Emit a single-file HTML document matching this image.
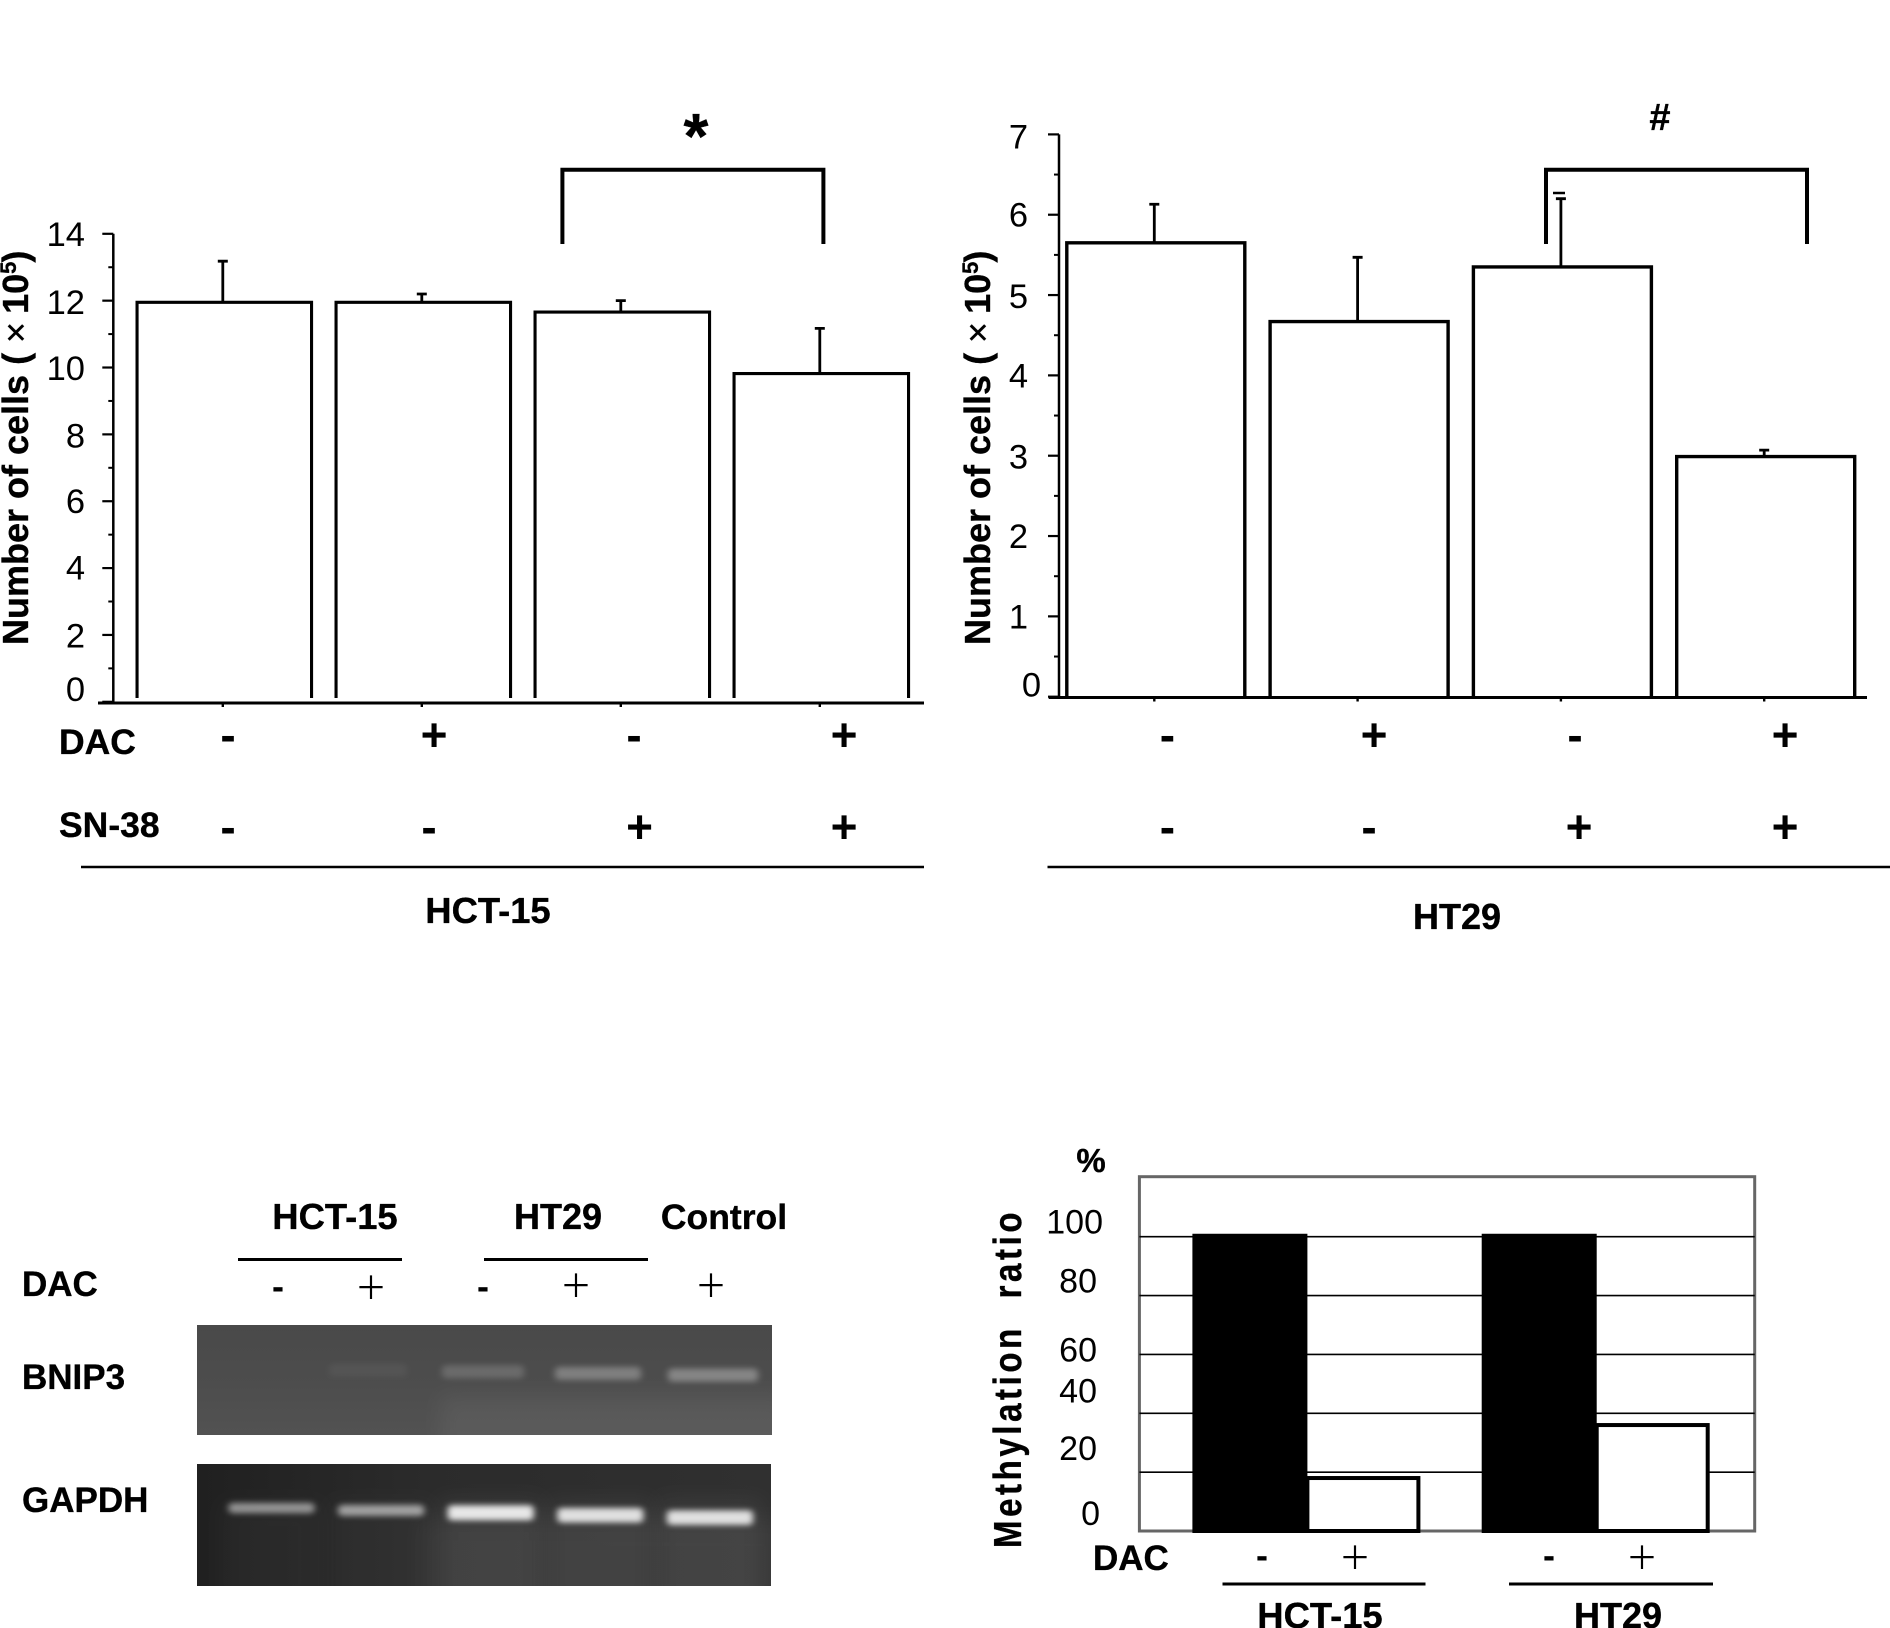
<!DOCTYPE html>
<html lang="en">
<head>
<meta charset="utf-8">
<title>Cell counts, BNIP3 expression and methylation ratio</title>
<style>
html,body{margin:0;padding:0;background:#fff;}
svg{display:block;}
text{font-family:"Liberation Sans",Arial,sans-serif;fill:#000;}
.b{font-weight:bold;stroke:#000;stroke-width:.35;}
.b .n{font-weight:normal;}
</style>
</head>
<body>
<svg id="fig" xmlns="http://www.w3.org/2000/svg" width="1890" height="1628" viewBox="0 0 1890 1628">
  <defs>
    <filter id="blurBand" x="-30%" y="-150%" width="160%" height="400%"><feGaussianBlur stdDeviation="3.4 3"/></filter>
    <filter id="blurSmear" x="-30%" y="-30%" width="160%" height="160%"><feGaussianBlur stdDeviation="11"/></filter>
    <clipPath id="clipGel1"><rect x="197" y="1325" width="575" height="110"/></clipPath>
    <clipPath id="clipGel2"><rect x="197" y="1464" width="574" height="122"/></clipPath>
    <linearGradient id="gel1Bg" x1="0" y1="0" x2="0" y2="1">
      <stop offset="0" stop-color="#494949"/><stop offset="0.55" stop-color="#4d4d4d"/><stop offset="1" stop-color="#525252"/>
    </linearGradient>
    <linearGradient id="gel2Bg" x1="0" y1="0" x2="1" y2="0">
      <stop offset="0" stop-color="#202020"/><stop offset="0.4" stop-color="#2b2b2b"/><stop offset="1" stop-color="#303030"/>
    </linearGradient>
  </defs>

  <!-- panel A text -->
  <text class="b" transform="translate(28 645) rotate(-90)" font-size="36" xml:space="preserve">Number of cells ( <tspan class="n">×</tspan> <tspan dx="-2">10</tspan><tspan font-size="22" dy="-12">5</tspan><tspan dy="12" dx="-1">)</tspan></text>
  <text class="b" x="696" y="158" font-size="64" text-anchor="middle">*</text>
  <path d="M562.4 244V169.8H823.4V244" fill="none" stroke="#000" stroke-width="4"/>
  <text class="b" x="59" y="754" font-size="35.5">DAC</text>
  <text class="b" x="59" y="837" font-size="35.5">SN-38</text>
  <line x1="81" y1="867" x2="924" y2="867" stroke="#000" stroke-width="2.5"/>
  <text class="b" x="488" y="923" font-size="36.4" text-anchor="middle">HCT-15</text>

  <!-- panel B text -->
  <text class="b" transform="translate(990 645) rotate(-90)" font-size="36" xml:space="preserve">Number of cells ( <tspan class="n">×</tspan> <tspan dx="-2">10</tspan><tspan font-size="22" dy="-12">5</tspan><tspan dy="12" dx="-1">)</tspan></text>
  <text class="b" x="1660" y="130" font-size="38" text-anchor="middle">#</text>
  <path d="M1546 244V169.8H1807V244" fill="none" stroke="#000" stroke-width="4"/>
  <line x1="1553" y1="193" x2="1565" y2="193" stroke="#000" stroke-width="2.5"/>
  <line x1="1047.5" y1="867" x2="1890" y2="867" stroke="#000" stroke-width="2.5"/>
  <text class="b" x="1457" y="929" font-size="36" text-anchor="middle">HT29</text>

  <!-- panel C gel -->
  <text class="b" x="335" y="1229" font-size="36.4" text-anchor="middle">HCT-15</text>
  <text class="b" x="558" y="1229" font-size="36" text-anchor="middle">HT29</text>
  <text class="b" x="724" y="1229" font-size="35.5" text-anchor="middle">Control</text>
  <line x1="238" y1="1259.5" x2="402" y2="1259.5" stroke="#000" stroke-width="3"/>
  <line x1="484" y1="1259.5" x2="648" y2="1259.5" stroke="#000" stroke-width="3"/>
  <text class="b" x="22" y="1296" font-size="35">DAC</text>
  <text class="b" x="22" y="1389" font-size="35">BNIP3</text>
  <text class="b" x="22" y="1512" font-size="35">GAPDH</text>
  <rect x="197" y="1325" width="575" height="110" fill="url(#gel1Bg)"/>
  <rect x="197" y="1464" width="574" height="122" fill="url(#gel2Bg)"/>
  <g id="gel1Layer" clip-path="url(#clipGel1)"></g>
  <g id="gel2Layer" clip-path="url(#clipGel2)"></g>

  <!-- panel D text -->
  <text class="b" x="1091" y="1172" font-size="33" text-anchor="middle">%</text>
  <text class="b" transform="translate(1021 1548) rotate(-90) scale(1 1.18)" font-size="33" letter-spacing="3.6" xml:space="preserve">Methylation <tspan dx="14">ratio</tspan></text>
  <text class="b" x="1093" y="1570" font-size="35">DAC</text>
  <line x1="1222.5" y1="1584" x2="1425.5" y2="1584" stroke="#000" stroke-width="3"/>
  <line x1="1509" y1="1584" x2="1713" y2="1584" stroke="#000" stroke-width="3"/>
  <text class="b" x="1320" y="1628" font-size="36.4" text-anchor="middle">HCT-15</text>
  <text class="b" x="1618" y="1628" font-size="36" text-anchor="middle">HT29</text>
</svg>

<script>
// Panel A: HCT-15 cell counts
const hctCategories = ['DAC- SN38-', 'DAC+ SN38-', 'DAC- SN38+', 'DAC+ SN38+'];
const hctValues = [11.95, 11.95, 11.66, 9.82];
const hctErrors = [1.23, 0.25, 0.34, 1.35];
const hctTicks = [0, 2, 4, 6, 8, 10, 12, 14];
const hctTickLabels = ['0', '2', '4', '6', '8', '10', '12', '14'];

// Panel B: HT29 cell counts
const htCategories = ['DAC- SN38-', 'DAC+ SN38-', 'DAC- SN38+', 'DAC+ SN38+'];
const htValues = [5.65, 4.67, 5.35, 2.99];
const htErrors = [0.48, 0.80, 0.85, 0.08];
const htTicks = [0, 1, 2, 3, 4, 5, 6, 7];
const htTickLabels = ['0', '1', '2', '3', '4', '5', '6', '7'];

// Treatment signs beneath both bar charts
const dacSigns = ['-', '+', '-', '+'];
const sn38Signs = ['-', '-', '+', '+'];

// Panel C: relative gel band intensity per lane
const bnip3Levels = [0.10, 0.36, 0.60, 0.68];
const gapdhLevels = [0.42, 0.50, 1, 0.94, 0.94];
const gelSigns = ['-', '+', '-', '+', '+'];

// Panel D: methylation ratio
const methCategories = ['HCT-15 DAC-', 'HCT-15 DAC+', 'HT29 DAC-', 'HT29 DAC+'];
const methValues = [101, 18, 101, 36];
const methTicks = [0, 20, 40, 60, 80, 100];
const methTickLabels = ['0', '20', '40', '60', '80', '100'];
const methSigns = ['-', '+', '-', '+'];

const NS = 'http://www.w3.org/2000/svg';
const fig = document.getElementById('fig');

function mk(tag, props, parent) {
  const e = document.createElementNS(NS, tag);
  for (const k in props) e.setAttribute(k, props[k]);
  (parent || fig).appendChild(e);
  return e;
}

function drawSign(ch, cx, cy, size, weight) {
  const isPlus = ch === '+';
  const t = mk('text', {
    x: cx,
    y: cy + size * (isPlus ? 0.335 : 0.265),
    'font-size': size,
    'font-weight': weight,
    'text-anchor': 'middle'
  });
  t.textContent = ch;
  
  
}

function drawThinPlus(cx, cy) {
  const t = mk('text', {x: cx, y: cy + 12, 'font-size': 32, 'text-anchor': 'middle', style: 'font-family:"Noto Sans CJK SC","Liberation Sans",sans-serif'});
  t.textContent = '＋';
  
  
}

function drawBarChart(opt) {
  const yScale = v => opt.y0 + (opt.y1 - opt.y0) * v / opt.yMax;
  const xScale = i => opt.x0 + i * opt.xStep;

  // y axis
  const yAxis = mk('line', {x1: opt.axisX, y1: yScale(opt.yMax), x2: opt.axisX, y2: opt.y0, stroke: '#000', 'stroke-width': 2.5});
  
  

  // ticks and labels
  opt.ticks.forEach((v, i) => {
    const tick = mk('line', {x1: opt.axisX - 11, y1: yScale(v), x2: opt.axisX, y2: yScale(v), stroke: '#000', 'stroke-width': 2.2});
    
    
    if (i < opt.ticks.length - 1) {
      const mid = (v + opt.ticks[i + 1]) / 2;
      const minor = mk('line', {x1: opt.axisX - 5, y1: yScale(mid), x2: opt.axisX, y2: yScale(mid), stroke: '#000', 'stroke-width': 2});
      
      
    }
    const lab = mk('text', {x: opt.labelX + (opt.labelDx[i] || 0), y: yScale(v) + 12 + (opt.labelDy[i] || 0), 'font-size': 34.5, 'text-anchor': 'end'});
    lab.textContent = opt.tickLabels[i];
    
    
  });

  // bars and error bars
  opt.values.forEach((v, i) => {
    const c = xScale(i);
    const hw = opt.barW / 2;
    const top = yScale(v);
    const bar = mk('path', {d: `M${c - hw} ${opt.barBottom}V${top}H${c + hw}V${opt.barBottom}`, fill: '#fff', stroke: '#000', 'stroke-width': opt.barStroke});
    
    
    const hi = yScale(v + opt.errors[i]);
    const ex = c + opt.errDx;
    const err = mk('path', {d: `M${ex} ${top}V${hi}M${ex - 5} ${hi}H${ex + 5}`, fill: 'none', stroke: '#000', 'stroke-width': 2.8});
    
    
    const xt = mk('line', {x1: ex, y1: opt.axisY, x2: ex, y2: opt.axisY + 4, stroke: '#000', 'stroke-width': 2.4});
    
    
    drawSign(opt.dac[i], opt.signX1[i], i % 2 ? 735 : 739, 46, 'bold');
    drawSign(opt.sn38[i], opt.signX2[i], opt.sn38[i] === '+' ? 827 : 831, 46, 'bold');
  });

  // x axis
  const xAxis = mk('line', {x1: opt.axisL, y1: opt.axisY, x2: opt.axisR, y2: opt.axisY, stroke: '#000', 'stroke-width': 3});
  
  
}

drawBarChart({
  categories: hctCategories, values: hctValues, errors: hctErrors, ticks: hctTicks, tickLabels: hctTickLabels,
  dac: dacSigns, sn38: sn38Signs, yMax: 14, y0: 701.8, y1: 233.8, axisY: 703, axisX: 113.3, axisL: 98, axisR: 924,
  x0: 224.3, xStep: 199, barW: 174.5, barBottom: 698, barStroke: 3.1, errDx: -1.5,
  labelX: 85, labelDx: [], labelDy: [-13, 0.5, -0.5, 0, 1, 0.5, 1.5, 0],
  signX1: [228, 434, 634, 844], signX2: [228, 429, 639.5, 844]
});

drawBarChart({
  categories: htCategories, values: htValues, errors: htErrors, ticks: htTicks, tickLabels: htTickLabels,
  dac: dacSigns, sn38: sn38Signs, yMax: 7, y0: 696.7, y1: 134.4, axisY: 697.5, axisX: 1059, axisL: 1048.7, axisR: 1867,
  x0: 1155.8, xStep: 203.3, barW: 178, barBottom: 697, barStroke: 3.4, errDx: -1.5,
  labelX: 1028, labelDx: [13], labelDy: [-12, 0, 0, 1, 0, 1, 0, 2],
  signX1: [1167.4, 1374, 1575, 1785], signX2: [1167.4, 1369, 1579, 1785]
});

// Panel C gel bands
const gel1 = document.getElementById('gel1Layer');
const gel2 = document.getElementById('gel2Layer');
const gel1LaneX = i => 368 + i * 115;
const gel2LaneX = i => 271.5 + i * 109.6;

const smear1 = mk('rect', {x: 440, y: 1395, width: 350, height: 70, fill: '#fff', opacity: 0.05, filter: 'url(#blurSmear)'}, gel1);



bnip3Levels.forEach((lv, i) => {
  const w = 78 + i * 4;
  const band = mk('rect', {x: gel1LaneX(i) - w / 2, y: 1363.5 + i * 1.7, width: w, height: 13, rx: 4, fill: '#d8d8d8', opacity: lv * 0.6, filter: 'url(#blurBand)'}, gel1);
  
  
});

const smear2 = mk('rect', {x: 420, y: 1520, width: 370, height: 90, fill: '#fff', opacity: 0.04, filter: 'url(#blurSmear)'}, gel2);



gapdhLevels.forEach((lv, i) => {
  const cx = gel2LaneX(i);
  const smear = mk('rect', {x: cx - 52, y: 1500, width: 104, height: 110, fill: '#fff', opacity: 0.015 + 0.05 * lv * lv, filter: 'url(#blurSmear)'}, gel2);
  
  
  const h = 7 + 8 * lv;
  const band = mk('rect', {x: cx - 43, y: 1508 + i * 2.4 - h / 2, width: 86, height: h, rx: 4, fill: '#fff', opacity: 0.22 + 0.66 * lv, filter: 'url(#blurBand)'}, gel2);
  
  
});

const gelSignX = [278, 371, 483, 576, 711];
const gelSignY = [1289, 1287, 1289, 1285, 1285];
gelSigns.forEach((s, i) => {
  if (s === '+') drawThinPlus(gelSignX[i], gelSignY[i]);
  else drawSign(s, gelSignX[i], gelSignY[i], 36, 'bold');
});

// Panel D: methylation chart
const boxL = 1139.4, boxR = 1754.7, boxT = 1176.7, boxB = 1531;
const methY = v => boxB - v * 2.943;
const groupX = g => 1192.4 + g * 289.3;
const methLabelDy = [-18, -24, -23, -5, -15, -15];
const methLabelRight = [1100, 1097, 1097, 1097, 1097, 1103];

const box = mk('rect', {x: boxL, y: boxT, width: boxR - boxL, height: boxB - boxT, fill: '#fff', stroke: '#666', 'stroke-width': 3});



methTicks.forEach((v, i) => {
  if (v > 0) {
    const g = mk('line', {x1: boxL, y1: methY(v), x2: boxR, y2: methY(v), stroke: '#000', 'stroke-width': 1.6});
    
    
  }
  const lab = mk('text', {x: methLabelRight[i], y: methY(v) + 12 + methLabelDy[i], 'font-size': 34, 'text-anchor': 'end'});
  lab.textContent = methTickLabels[i];
  
  
});

methValues.forEach((v, i) => {
  const g = Math.floor(i / 2);
  const left = groupX(g);
  if (i % 2 === 0) {
    const bar = mk('rect', {x: left, y: methY(v), width: 115, height: boxB + 2 - methY(v), fill: '#000'});
    
    
  } else {
    const bar = mk('rect', {x: left + 115, y: methY(v), width: 111, height: boxB - methY(v), fill: '#fff', stroke: '#000', 'stroke-width': 4});
    
    
  }
});

const methSignX = [1262, 1355, 1549, 1642];
methSigns.forEach((s, i) => {
  if (s === '+') drawThinPlus(methSignX[i], 1557);
  else drawSign(s, methSignX[i], 1558, 36, 'bold');
});
</script>
</body>
</html>
